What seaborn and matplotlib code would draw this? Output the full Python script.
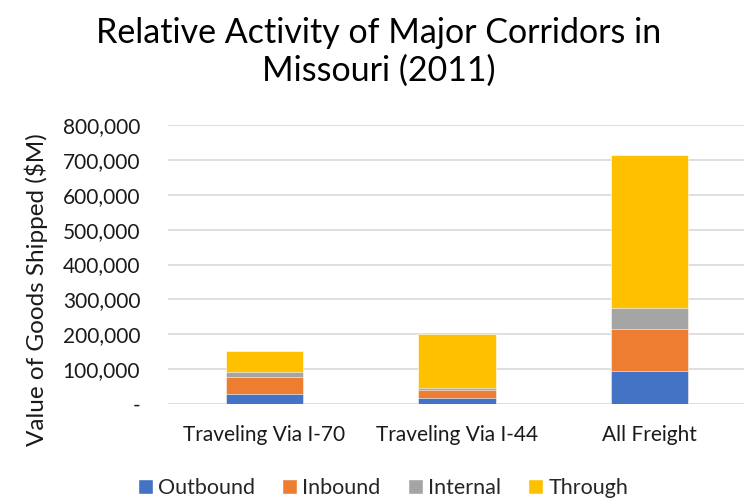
import matplotlib
matplotlib.use("Agg")
import matplotlib.pyplot as plt
import seaborn as sns
import numpy as np
from matplotlib.patches import Patch
from matplotlib.ticker import FuncFormatter

categories = ["Traveling Via I-70", "Traveling Via I-44", "All Freight"]
series = ["Outbound", "Inbound", "Internal", "Through"]
outbound = [29000, 18000, 94000]
inbound = [48000, 23000, 120000]
internal = [14000, 5000, 62000]
through = [62000, 154000, 437000]
colors = ["#4472C4", "#ED7D31", "#A5A5A5", "#FFC000"]

sns.set_theme(style="white")
plt.rcParams["font.family"] = ["Lato", "DejaVu Sans"]

fig = plt.figure(figsize=(7.44, 5.01), dpi=100)
ax = fig.add_axes([168 / 744, 1 - 404 / 501, 578 / 744, 279 / 501])

values = np.array([outbound, inbound, internal, through])
cum = values.cumsum(axis=0)

# stack by drawing the running totals from the tallest down
for i in range(len(series) - 1, -1, -1):
    sns.barplot(x=categories, y=cum[i], color=colors[i], width=0.4,
                saturation=1, ax=ax, zorder=3, edgecolor="white", linewidth=0.4)

ax.set_ylim(0, 800000)
ax.set_xlim(-0.5, 2.5)
ax.set_yticks(np.arange(0, 800001, 100000))
ax.yaxis.set_major_formatter(FuncFormatter(lambda v, p: "-" if v == 0 else f"{int(v):,}"))
ax.yaxis.grid(True, color="#D9D9D9", linewidth=1.2, zorder=0)
ax.set_axisbelow(True)
for s in ax.spines.values():
    s.set_visible(False)
ax.tick_params(axis="y", labelsize=15, length=0, pad=20, colors="#1a1a1a")
ax.tick_params(axis="x", labelsize=15, length=0, pad=15, colors="#1a1a1a")
ax.set_xlabel("")
ax.set_ylabel("")

fig.text(36 / 744, 1 - 290 / 501, "Value of Goods Shipped ($M)", rotation=90,
         ha="center", va="center", fontsize=17.5, color="#1a1a1a")
fig.text(379 / 744, 1 - 52 / 501, "Relative Activity of Major Corridors in\nMissouri (2011)",
         ha="center", va="center", fontsize=24.5, color="black", linespacing=1.2)

handles = [Patch(facecolor=c, label=s) for s, c in zip(series, colors)]
fig.legend(handles=handles, loc="center", bbox_to_anchor=(383 / 744, 1 - 488 / 501),
           ncol=4, frameon=False, fontsize=15.5, handlelength=0.7, handleheight=0.7,
           handletextpad=0.25, columnspacing=1.25, borderaxespad=0, borderpad=0)

fig.savefig("out.png", dpi=100)
